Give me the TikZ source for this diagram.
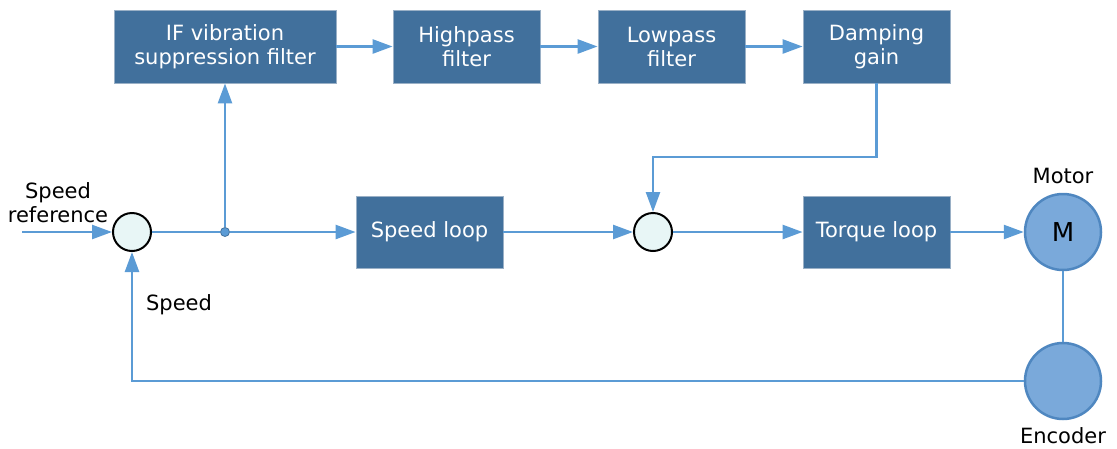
\documentclass[tikz,border=0pt]{standalone}
\usepackage{fontspec}
\setmainfont{DejaVu Sans}
\usetikzlibrary{arrows.meta}
\definecolor{boxfill}{HTML}{41709C}
\definecolor{boxedge}{HTML}{9AB0C6}
\definecolor{wire}{HTML}{5B9BD5}
\definecolor{sumfill}{HTML}{E8F6F6}
\definecolor{motfill}{HTML}{7AA9DA}
\definecolor{motedge}{HTML}{4F87C0}
\begin{document}
\begin{tikzpicture}[x=1pt,y=-1pt,
  blk/.style={draw=boxedge, line width=0.8pt, fill=boxfill, text=white,
    font=\fontsize{21}{24}\selectfont, align=center, inner sep=0pt,
    minimum width=147pt, minimum height=73pt},
  sumnode/.style={circle, draw=black, line width=2pt, fill=sumfill,
    minimum size=38pt, inner sep=0pt},
  motnode/.style={circle, draw=motedge, line width=2.5pt, fill=motfill,
    minimum size=76pt, inner sep=0pt, font=\fontsize{26}{30}\selectfont},
  lbl/.style={font=\fontsize{21}{24}\selectfont, align=center, text=black, inner sep=0pt},
  wireline/.style={draw=wire, line width=2.5pt},
  arr/.style={wireline, -{Triangle[length=20pt,width=14pt]}}
]
\useasboundingbox (0,0) rectangle (1117,448);

% blocks
\node[blk, minimum width=222pt] (ifv) at (225,46.5) {IF vibration\\suppression filter};
\node[blk] (hp) at (466.5,46.5) {Highpass\\filter};
\node[blk] (lp) at (671.5,46.5) {Lowpass\\filter};
\node[blk] (dg) at (876.5,46.5) {Damping\\gain};
\node[blk, minimum height=72pt] (sl) at (429.5,232) {Speed loop};
\node[blk, minimum height=72pt] (tl) at (876.5,232) {Torque loop};

% summing junctions
\node[sumnode] (s1) at (132,232) {};
\node[sumnode] (s2) at (653,232) {};
\node[circle, fill=wire, draw=wire!75!black, line width=0.8pt, minimum size=9pt, inner sep=0pt] (jn) at (225,232) {};

% motor and encoder
\node[motnode] (mot) at (1063,232) {M};
\node[motnode] (enc) at (1063,381) {};

% labels
\node[lbl] (lref) at (58,203) {Speed\\reference};
\node[lbl] (lspd) at (179,305) {Speed};
\node[lbl] (lmot) at (1063,176) {Motor};
\node[lbl] (lenc) at (1063,436) {Encoder};

% coordinates
\coordinate (in) at (22,232);
\coordinate (bend) at (876.5,157);

% connectors
\draw[arr] (in) -- (s1);
\draw[wireline] (s1) -- (jn);
\draw[arr] (jn) -- (sl);
\draw[arr] (jn) -- (ifv.south);
\draw[arr] (ifv) -- (hp);
\draw[arr] (hp) -- (lp);
\draw[arr] (lp) -- (dg);
\draw[arr] (dg.south) -- (bend) -| (s2.north);
\draw[arr] (sl) -- (s2);
\draw[arr] (s2) -- (tl);
\draw[arr] (tl) -- (mot);
\draw[wireline] (mot.south) -- (enc.north);
\draw[arr] (enc.west) -| (s1.south);
\end{tikzpicture}
\end{document}
